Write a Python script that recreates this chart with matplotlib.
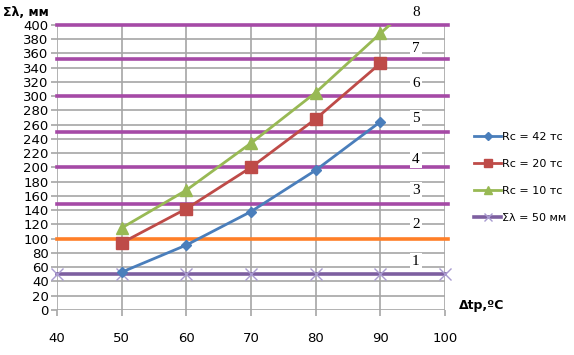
import matplotlib
matplotlib.use("Agg")
import matplotlib.pyplot as plt

# ---- data ----
DT = [50, 60, 70, 80, 90]
RC42 = [53, 91, 138, 196, 264]
RC20 = [94, 142, 200, 268, 346]
RC10 = [115, 168, 234, 305, 388]
RC10_TAIL_X, RC10_TAIL_Y = 100, 470      # line runs off the top of the chart
DT50 = [40, 50, 60, 70, 80, 90, 100]
SUM50 = [50, 50, 50, 50, 50, 50, 50]

LEVELS = [100, 148, 200, 250, 300, 352, 400]   # lines 2..8
LEVEL_COLORS = ["#ff7f27"] + ["#a54aa6"] * 6
LINE_NUMS = ["1", "2", "3", "4", "5", "6", "7", "8"]
NUM_Y = [68, 120, 168, 211, 269, 318, 367, 418]

BLUE, RED, GREEN = "#4a7ebb", "#be4b48", "#98b954"
PURPLE, LAVENDER = "#7d5fa0", "#a99bd0"

fig = plt.figure(figsize=(5.74, 3.55), dpi=100)
ax = fig.add_axes([0.0993, 0.127, 0.676, 0.803])

for lv, c in zip(LEVELS, LEVEL_COLORS):
    ax.plot([40, 100.5], [lv, lv], color=c, lw=2.6, zorder=2, clip_on=False)

ax.plot(DT50, SUM50, color=PURPLE, lw=2.6, marker="x", ms=8, mec=LAVENDER,
        mew=1.0, zorder=3, clip_on=False, label="Σλ = 50 мм")
ax.plot(DT, RC42, color=BLUE, lw=2.0, marker="D", ms=5.5, zorder=4,
        label="Rc = 42 тс")
ax.plot(DT, RC20, color=RED, lw=2.0, marker="s", ms=8, zorder=4,
        label="Rc = 20 тс")
ax.plot(DT + [RC10_TAIL_X], RC10 + [RC10_TAIL_Y], color=GREEN, lw=2.0,
        marker="^", ms=8, zorder=4, markevery=list(range(len(DT))),
        label="Rc = 10 тс")

for s, yv in zip(LINE_NUMS, NUM_Y):
    ax.text(95.5, yv, s, fontsize=11, family="Liberation Serif", ha="center",
            va="center", clip_on=False, zorder=5,
            bbox=dict(facecolor="white", edgecolor="none", pad=1.5))

ax.set_xlim(40, 100)
ax.set_ylim(0, 400)
ax.set_xticks(range(40, 101, 10))
ax.set_yticks(range(0, 401, 20))
ax.grid(True, color="#a6a6a6", lw=1.2, zorder=0)
ax.set_axisbelow(True)
for sp in ax.spines.values():
    sp.set_visible(False)
ax.tick_params(length=4, color="#a6a6a6", width=1.2, labelsize=9.5, pad=2)
ax.tick_params(axis="x", pad=12)

fig.text(0.005, 0.965, "Σλ, мм", fontsize=9, fontweight="bold", va="center")
fig.text(0.80, 0.14, "Δtp,ºC", fontsize=9, fontweight="bold", va="center")

h, l = ax.get_legend_handles_labels()
order = [1, 2, 3, 0]
fig.legend([h[i] for i in order], [l[i] for i in order], loc="upper left",
           bbox_to_anchor=(0.815, 0.648), frameon=False, fontsize=8,
           handlelength=2.4, labelspacing=1.55, handletextpad=0.1,
           borderaxespad=0.2, markerscale=0.8)

fig.savefig("out.png", dpi=100)
